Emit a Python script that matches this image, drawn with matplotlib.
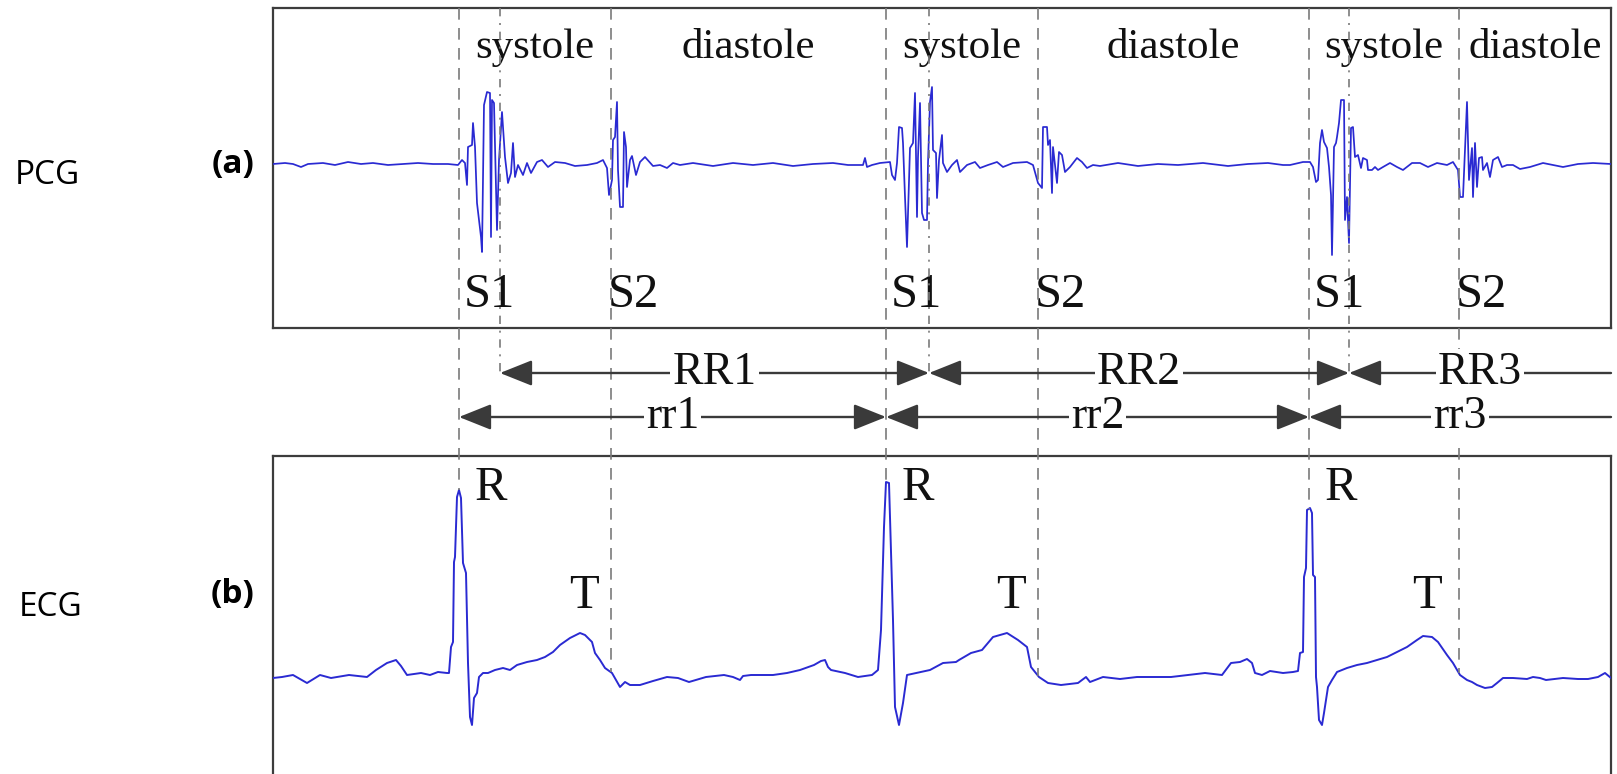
import numpy as np
import matplotlib
matplotlib.use("Agg")
import matplotlib.pyplot as plt
from matplotlib.transforms import blended_transform_factory
from matplotlib.patches import FancyArrowPatch, ArrowStyle
from matplotlib.lines import Line2D

# ---------------------------------------------------------------------------
# Digitised traces: (sample index at 500 Hz, amplitude in arbitrary units)
# ---------------------------------------------------------------------------
pcg_points = [
    (0, 0), (12, 1), (20, 0), (28, -3), (35, 0), (50, 1), (62, -1), (75, 2), (88, 0),
    (100, 1), (115, -1), (130, 0), (145, 1), (160, 0), (175, 0),
    # beat 1 - S1
    (185, -1), (189, 4), (192, 1), (194, -21), (195, 17), (199, 19), (200, 41), (202, 17),
    (204, -39), (208, -73), (209, -88), (211, 59), (214, 72), (217, 71), (218, -73),
    (219, 64), (221, 61), (224, -66), (226, 4), (229, 52), (232, 7), (235, -19), (238, -9),
    (240, 21), (242, -13), (245, -1), (250, -11), (254, 1), (258, -9), (264, 2), (269, 4),
    (275, -3), (282, 2), (292, 1), (302, -2), (314, -1), (324, 1), (330, 4),
    # beat 1 - S2
    (334, -4), (336, -31), (339, -16), (340, 24), (342, 27), (344, 62), (345, -6),
    (347, -43), (350, -43), (351, 32), (353, 17), (354, -23), (357, 4), (359, 8),
    (363, -11), (367, 2), (372, 7), (380, -2), (387, -1), (394, -4), (400, 1), (407, -1),
    (420, 1), (440, -2), (460, 1), (480, -1), (500, 1), (520, -2), (540, 0), (560, 1),
    (575, -1), (587, -1), (590, -1), (592, 6), (594, -3), (599, -1), (607, 1),
    # beat 2 - S1
    (617, 2), (619, -11), (622, -16), (624, 1), (626, 37), (629, 36), (630, 21), (632, -33),
    (634, -83), (637, 16), (640, 21), (642, 71), (644, -53), (645, 7), (647, 61),
    (649, -49), (651, -56), (654, -56), (655, 1), (657, 62), (659, 77), (660, 14),
    (663, 11), (664, -34), (666, 4), (669, 29), (670, 1), (674, -8), (679, -1), (684, 4),
    (687, -8), (694, -1), (702, 2), (707, -4), (715, -1), (724, 2), (730, -3), (740, 1),
    (754, 2), (760, -1),
    # beat 2 - S2
    (765, -19), (769, -24), (770, 37), (774, 37), (775, 19), (777, 24), (779, -29),
    (780, 17), (784, -19), (786, 12), (789, 9), (792, -8), (797, -3), (804, 6), (809, 2),
    (814, -4), (820, -1), (827, -2),
    (845, 1), (865, -2), (885, 0), (905, -1), (930, 1), (955, -2), (975, 0), (995, 1),
    (1010, -1), (1017, -1),
    # beat 3 - S1
    (1030, 2), (1037, 2), (1040, -3), (1043, -18), (1045, -16), (1047, 21), (1049, 34),
    (1051, 22), (1054, 16), (1056, -3), (1058, -31), (1059, -91), (1061, 17), (1063, 21),
    (1064, 27), (1066, 41), (1068, 64), (1071, 64), (1072, -56), (1074, -33), (1076, -79),
    (1078, 36), (1080, 37), (1082, 7), (1085, 9), (1088, -4), (1090, 6), (1094, 4),
    (1095, -6), (1099, -6), (1102, -3), (1105, -6), (1110, -3), (1117, 1), (1124, -3),
    (1130, -6), (1139, 1), (1147, 1), (1155, -3), (1164, 1), (1174, -1), (1180, 2),
    # beat 3 - S2
    (1185, -6), (1187, -33), (1190, -33), (1192, 14), (1194, 62), (1196, -16), (1199, 16),
    (1200, -33), (1202, 21), (1204, -23), (1206, 6), (1209, 7), (1210, -6), (1214, 1),
    (1217, -13), (1220, 4), (1225, 7), (1229, -3), (1234, -1), (1240, -1), (1247, -5),
    (1257, -3), (1270, 1), (1290, -3), (1305, 0), (1320, 1), (1338, 0),
]

ecg_points = [
    (0, -3), (9, -2), (20, 0), (34, -8), (47, 0), (58, -3), (76, 0), (94, -2), (103, 5),
    (114, 12), (123, 15), (128, 9), (134, 0), (148, 2), (157, 0), (165, 3), (174, 2),
    # beat 1
    (176, 2), (178, 28), (180, 33), (181, 113), (182, 118), (184, 178), (186, 185),
    (188, 177), (190, 112), (193, 102), (195, 12), (197, -42), (199, -50), (201, -23),
    (204, -18), (206, -2), (210, 2), (215, 2), (222, 5), (230, 7), (237, 5), (244, 10),
    (254, 13), (264, 15), (272, 18), (280, 23), (287, 30), (297, 37), (307, 42), (312, 40),
    (319, 33), (322, 22), (327, 15), (332, 7), (339, 2), (347, -12), (352, -7), (357, -10),
    (367, -10), (380, -6), (394, -2), (405, -3), (416, -7), (433, -2), (451, 0), (460, -2),
    (467, -5), (470, -1), (478, 0), (500, 0), (514, 2), (527, 5), (541, 10), (548, 14),
    (552, 15), (555, 8), (558, 5), (572, 2), (585, -2), (599, 0), (605, 5),
    # beat 2
    (608, 45), (611, 148), (613, 193), (616, 192), (617, 158), (620, 55), (622, -32),
    (626, -50), (630, -28), (634, 0), (643, 2), (657, 5), (670, 12), (683, 13), (686, 15),
    (698, 22), (709, 25), (720, 38), (734, 42), (745, 35), (754, 28), (758, 8), (766, -2),
    (775, -8), (788, -10), (805, -8), (813, -2), (817, -7), (830, -2), (847, -4), (864, -2),
    (881, -2), (898, -2), (915, 0), (932, 2), (949, 0), (958, 12), (967, 13), (974, 16),
    (979, 12), (982, 2), (989, 0), (997, 4), (1010, 2), (1020, 3), (1025, 4),
    # beat 3
    (1027, 22), (1030, 23), (1031, 98), (1033, 107), (1034, 165), (1037, 167), (1039, 162),
    (1040, 100), (1042, 98), (1043, -2), (1044, -12), (1046, -45), (1049, -50), (1051, -38),
    (1053, -25), (1055, -12), (1059, -5), (1064, 3), (1074, 7), (1084, 10), (1094, 12),
    (1104, 15), (1114, 18), (1124, 23), (1134, 28), (1144, 35), (1150, 39), (1159, 38),
    (1165, 33), (1174, 20), (1180, 12), (1187, 0), (1194, -5), (1199, -7), (1204, -10),
    (1212, -13), (1219, -12), (1224, -8), (1230, -3), (1240, -3), (1254, -4), (1260, -2),
    (1267, -3), (1273, -5), (1290, -3), (1305, -4), (1315, -4), (1325, -2), (1332, 2),
    (1338, -3),
]

# Event markers (sample index)
s1_onset = [186, 613, 1036]      # coincides with the ECG R peaks
s1_peak = [227, 656, 1076]
s2_onset = [338, 765, 1186]
t_peak = [307, 734, 1150]
n_total = 1338

phase_names = ["systole", "diastole"]
sound_names = ["S1", "S2"]
RR_names = ["RR1", "RR2", "RR3"]
rr_names = ["rr1", "rr2", "rr3"]

pcg_n, pcg_amp = np.array(pcg_points, dtype=float).T
ecg_n, ecg_amp = np.array(ecg_points, dtype=float).T

# ---------------------------------------------------------------------------
W, H = 1617, 774
fig = plt.figure(figsize=(W / 100, H / 100), dpi=100)
fig.patch.set_facecolor("white")

SERIF = "Liberation Serif"
SANS = "Open Sans"
trace_col = "#2a2ad2"
spine_col = "#3c3c3c"
guide_col = "#7a7a7a"
arrow_col = "#3a3a3a"
ink = "#111111"

ax_pcg = fig.add_axes([273 / W, 1 - 328 / H, 1338 / W, 320 / H])
ax_ecg = fig.add_axes([273 / W, 0.0, 1338 / W, (H - 456) / H])

for ax in (ax_pcg, ax_ecg):
    ax.set_xlim(0, n_total)
    ax.set_xticks([])
    ax.set_yticks([])
    for sp in ax.spines.values():
        sp.set_color(spine_col)
        sp.set_linewidth(1.6)
ax_pcg.set_ylim(-164, 156)
ax_ecg.set_ylim(-99, 219)
ax_ecg.spines["bottom"].set_visible(False)

ax_pcg.plot(pcg_n, pcg_amp, color=trace_col, lw=1.25, zorder=3)
ax_ecg.plot(ecg_n, ecg_amp, color=trace_col, lw=1.4, zorder=3)

# guide lines running across both panels
xfig = blended_transform_factory(ax_pcg.transData, fig.transFigure)
top_y = 1 - 8 / H
RR_y = 1 - 373 / H
rr_y = 1 - 417 / H


def ecg_fig_y(n):
    amp = np.interp(n, ecg_n, ecg_amp)
    disp = ax_ecg.transData.transform((n, amp))
    return fig.transFigure.inverted().transform(disp)[1]


for n in s1_onset + s2_onset:
    fig.add_artist(Line2D([n, n], [top_y, ecg_fig_y(n)], transform=xfig,
                          color=guide_col, lw=1.2, ls=(0, (7, 5)), zorder=2))
for n in s1_peak:
    fig.add_artist(Line2D([n, n], [top_y, RR_y], transform=xfig,
                          color=guide_col, lw=1.2, ls=(0, (5, 4, 1.2, 4)), zorder=2))

# interval arrows
head = ArrowStyle("<|-|>", head_length=20, head_width=8)
head_left = ArrowStyle("<|-", head_length=20, head_width=8)


def interval(starts, y, names):
    for i, a in enumerate(starts):
        if i + 1 < len(starts):
            b, style = starts[i + 1], head
        else:
            b, style = n_total, head_left
        fig.add_artist(FancyArrowPatch((a, y), (b, y), transform=xfig, arrowstyle=style,
                                       mutation_scale=1, color=arrow_col, lw=1.7,
                                       shrinkA=0, shrinkB=0, zorder=4))
        fig.text((a + b) / 2, y, names[i], transform=xfig, ha="center", va="center",
                 family=SERIF, fontsize=33, color=ink, zorder=5,
                 bbox=dict(facecolor="white", edgecolor="none", pad=1.5))


interval(s1_peak, RR_y, RR_names)
interval(s1_onset, rr_y, rr_names)

# phase labels in the PCG panel
pcg_xa = blended_transform_factory(ax_pcg.transData, ax_pcg.transAxes)
for i in range(3):
    sys_mid = (s1_onset[i] + s2_onset[i]) / 2
    dia_end = s1_onset[i + 1] if i + 1 < 3 else n_total
    dia_mid = (s2_onset[i] + dia_end) / 2
    ax_pcg.text(sys_mid, 0.845, phase_names[0], transform=pcg_xa, ha="center",
                va="baseline", family=SERIF, fontsize=31, color=ink)
    ax_pcg.text(dia_mid, 0.845, phase_names[1], transform=pcg_xa, ha="center",
                va="baseline", family=SERIF, fontsize=31, color=ink)
    ax_pcg.text(s1_onset[i] + 5, 0.066, sound_names[0], transform=pcg_xa, ha="left",
                va="baseline", family=SERIF, fontsize=35, color=ink)
    ax_pcg.text(s2_onset[i] - 3, 0.066, sound_names[1], transform=pcg_xa, ha="left",
                va="baseline", family=SERIF, fontsize=35, color=ink)

# wave labels in the ECG panel
for i in range(3):
    ax_ecg.text(s1_onset[i] + 16, 175, "R", ha="left", va="baseline",
                family=SERIF, fontsize=35, color=ink)
    ax_ecg.text(t_peak[i] + 4, 67, "T", ha="center", va="baseline",
                family=SERIF, fontsize=35, color=ink)

# row captions
fig.text(15 / W, 1 - 176 / H, "PCG", ha="left", va="center", family=SANS, fontsize=24)
fig.text(19 / W, 1 - 607 / H, "ECG", ha="left", va="center", family=SANS, fontsize=24)
fig.text(254 / W, 1 - 165 / H, "(a)", ha="right", va="center", family=SANS,
         fontsize=24, fontweight="bold")
fig.text(254 / W, 1 - 595 / H, "(b)", ha="right", va="center", family=SANS,
         fontsize=24, fontweight="bold")

fig.savefig("out.png", dpi=100, facecolor="white")
